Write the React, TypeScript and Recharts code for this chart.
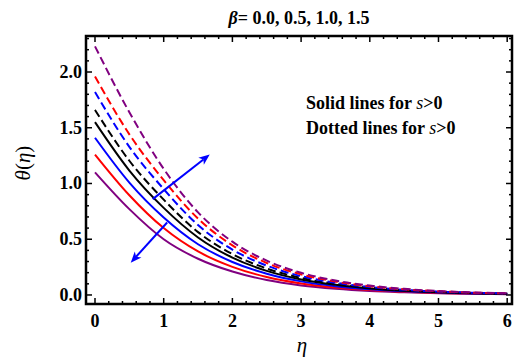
import React from 'react';
import { LineChart, Line, XAxis, YAxis, ReferenceLine, ReferenceArea } from 'recharts';

const eta = [0, 0.5, 1, 1.5, 2, 2.5, 3, 3.5, 4, 4.5, 5, 5.5, 6];
const solidPurple = [1.10, 0.77, 0.50, 0.325, 0.21, 0.134, 0.086, 0.056, 0.036, 0.024, 0.015, 0.010, 0.0065];
const solidRed = [1.26, 0.895, 0.60, 0.39, 0.252, 0.161, 0.103, 0.067, 0.044, 0.028, 0.018, 0.012, 0.008];
const solidBlue = [1.41, 1.008, 0.695, 0.455, 0.296, 0.191, 0.122, 0.079, 0.052, 0.033, 0.022, 0.014, 0.009];
const solidBlack = [1.55, 1.116, 0.781, 0.516, 0.335, 0.216, 0.139, 0.091, 0.059, 0.038, 0.025, 0.016, 0.010];
const dashedBlack = [1.66, 1.204, 0.855, 0.564, 0.367, 0.237, 0.153, 0.099, 0.065, 0.042, 0.027, 0.018, 0.011];
const dashedBlue = [1.82, 1.329, 0.950, 0.627, 0.407, 0.263, 0.169, 0.110, 0.072, 0.046, 0.030, 0.020, 0.013];
const dashedRed = [1.96, 1.441, 1.030, 0.685, 0.445, 0.287, 0.185, 0.120, 0.078, 0.051, 0.033, 0.021, 0.014];
const dashedPurple = [2.23, 1.639, 1.131, 0.741, 0.478, 0.308, 0.199, 0.129, 0.084, 0.055, 0.035, 0.023, 0.015];

const xMajorTicks = [0, 1, 2, 3, 4, 5, 6];
const xMinorTicks = [0.2, 0.4, 0.6, 0.8, 1.2, 1.4, 1.6, 1.8, 2.2, 2.4, 2.6, 2.8, 3.2, 3.4, 3.6, 3.8, 4.2, 4.4, 4.6, 4.8, 5.2, 5.4, 5.6, 5.8];
const yMajorTicks = [0, 0.5, 1, 1.5, 2];
const yMinorTicks = [0.1, 0.2, 0.3, 0.4, 0.6, 0.7, 0.8, 0.9, 1.1, 1.2, 1.3, 1.4, 1.6, 1.7, 1.8, 1.9, 2.1, 2.2, 2.3];

const xDomain: [number, number] = [-0.131, 6.07];
const yDomain: [number, number] = [-0.081, 2.323];

// arrows: from (eta, theta) to (eta, theta)
const arrowUp = { x1: 0.84, y1: 0.86, x2: 1.67, y2: 1.26 };
const arrowDown = { x1: 1.05, y1: 0.65, x2: 0.52, y2: 0.29 };

const series = [
  { key: 'sp', values: solidPurple, color: '#800080', dashed: false },
  { key: 'sr', values: solidRed, color: '#ff0000', dashed: false },
  { key: 'sb', values: solidBlue, color: '#0000ff', dashed: false },
  { key: 'sk', values: solidBlack, color: '#000000', dashed: false },
  { key: 'dk', values: dashedBlack, color: '#000000', dashed: true },
  { key: 'db', values: dashedBlue, color: '#0000ff', dashed: true },
  { key: 'dr', values: dashedRed, color: '#ff0000', dashed: true },
  { key: 'dp', values: dashedPurple, color: '#800080', dashed: true },
];

const data = eta.map((e, i) => {
  const row: Record<string, number> = { eta: e };
  series.forEach((s) => {
    row[s.key] = s.values[i];
  });
  return row;
});

const SERIF = '"Liberation Serif", "Times New Roman", Times, serif';

const bad = (vals: any[]) => vals.some((v) => typeof v !== 'number' || isNaN(v));

const ArrowShape = (props: any) => {
  const { x1, y1, x2, y2 } = props;
  if (bad([x1, y1, x2, y2])) return null;
  const dx = x2 - x1;
  const dy = y2 - y1;
  const len = Math.sqrt(dx * dx + dy * dy);
  const ux = dx / len;
  const uy = dy / len;
  const hl = 11;
  const hw = 4.5;
  const bx = x2 - ux * hl;
  const by = y2 - uy * hl;
  const pts = `${x2},${y2} ${bx - uy * hw},${by + ux * hw} ${bx + ux * 3},${by + uy * 3} ${bx + uy * hw},${by - ux * hw}`;
  return (
    <g>
      <line x1={x1} y1={y1} x2={bx + ux * 3} y2={by + uy * 3} stroke="#0000ff" strokeWidth={2} />
      <polygon points={pts} fill="#0000ff" />
    </g>
  );
};

const makeVTick = (len: number) => (props: any) => {
  const { x1, y1, x2, y2 } = props;
  if (bad([x1, y1, x2, y2])) return null;
  const top = Math.min(y1, y2);
  const bottom = Math.max(y1, y2);
  return (
    <g>
      <line x1={x1} y1={top} x2={x1} y2={top + len} stroke="#000" strokeWidth={1.5} />
      <line x1={x1} y1={bottom} x2={x1} y2={bottom - len} stroke="#000" strokeWidth={1.5} />
    </g>
  );
};

const makeHTick = (len: number) => (props: any) => {
  const { x1, y1, x2, y2 } = props;
  if (bad([x1, y1, x2, y2])) return null;
  const left = Math.min(x1, x2);
  const right = Math.max(x1, x2);
  return (
    <g>
      <line x1={left} y1={y1} x2={left + len} y2={y1} stroke="#000" strokeWidth={1.5} />
      <line x1={right} y1={y1} x2={right - len} y2={y1} stroke="#000" strokeWidth={1.5} />
    </g>
  );
};

const XMajor = makeVTick(6);
const XMinor = makeVTick(3);
const YMajor = makeHTick(6);
const YMinor = makeHTick(3);

const XTickLabel = (props: any) => {
  const { x, y, payload } = props;
  return (
    <text x={x} y={y + 23} textAnchor="middle" fontSize={18} fontWeight="bold" fontFamily={SERIF} fill="#000">
      {payload.value}
    </text>
  );
};

const YTickLabel = (props: any) => {
  const { x, y, payload } = props;
  return (
    <text x={x - 4} y={y + 6} textAnchor="end" fontSize={18} fontWeight="bold" fontFamily={SERIF} fill="#000">
      {Number(payload.value).toFixed(1)}
    </text>
  );
};

export default function App() {
  return (
    <div style={{ position: 'absolute', left: 0, top: 0, width: 520, height: 361, background: '#fff' }}>
      <LineChart width={520} height={361} data={data} margin={{ top: 36, right: 8, left: 0, bottom: 0 }}>
        <XAxis
          dataKey="eta"
          type="number"
          domain={xDomain}
          allowDataOverflow
          ticks={xMajorTicks}
          interval={0}
          height={57}
          tickLine={false}
          tickSize={0}
          tickMargin={0}
          axisLine={false}
          tick={XTickLabel}
        />
        <YAxis
          type="number"
          domain={yDomain}
          allowDataOverflow
          ticks={yMajorTicks}
          interval={0}
          width={86}
          tickLine={false}
          tickSize={0}
          tickMargin={0}
          axisLine={false}
          tick={YTickLabel}
        />
        {xMinorTicks.map((v) => (
          <ReferenceLine key={`xm${v}`} x={v} shape={XMinor} />
        ))}
        {xMajorTicks.map((v) => (
          <ReferenceLine key={`xM${v}`} x={v} shape={XMajor} />
        ))}
        {yMinorTicks.map((v) => (
          <ReferenceLine key={`ym${v}`} y={v} shape={YMinor} />
        ))}
        {yMajorTicks.map((v) => (
          <ReferenceLine key={`yM${v}`} y={v} shape={YMajor} />
        ))}
        {series.map((s) => (
          <Line
            key={s.key}
            dataKey={s.key}
            type="monotone"
            stroke={s.color}
            strokeWidth={2}
            strokeDasharray={s.dashed ? '8 4' : undefined}
            dot={false}
            activeDot={false}
            isAnimationActive={false}
          />
        ))}
        <ReferenceLine segment={[{ x: arrowUp.x1, y: arrowUp.y1 }, { x: arrowUp.x2, y: arrowUp.y2 }]} shape={ArrowShape} />
        <ReferenceLine segment={[{ x: arrowDown.x1, y: arrowDown.y1 }, { x: arrowDown.x2, y: arrowDown.y2 }]} shape={ArrowShape} />
        <ReferenceArea
          x1={xDomain[0]}
          x2={xDomain[1]}
          y1={yDomain[0]}
          y2={yDomain[1]}
          fill="none"
          fillOpacity={0}
          stroke="#000"
          strokeWidth={2.5}
          strokeOpacity={1}
        />
      </LineChart>
      <svg width={520} height={361} style={{ position: 'absolute', left: 0, top: 0, pointerEvents: 'none' }}>
        <text x={299} y={24} textAnchor="middle" fontSize={18} fontWeight="bold" fontFamily={SERIF} fill="#000">
          <tspan fontStyle="italic">β</tspan>= 0.0, 0.5, 1.0, 1.5
        </text>
        <text x={306} y={109} fontSize={18} fontWeight="bold" fontFamily={SERIF} fill="#000">
          Solid lines for <tspan fontStyle="italic" fontWeight="normal">s</tspan>&gt;0
        </text>
        <text x={306} y={134} fontSize={18} fontWeight="bold" fontFamily={SERIF} fill="#000">
          Dotted lines for <tspan fontStyle="italic" fontWeight="normal">s</tspan>&gt;0
        </text>
        <text x={302} y={352} textAnchor="middle" fontSize={21} fontStyle="italic" fontFamily={SERIF} fill="#000">η</text>
        <text x={0} y={0} transform="translate(30,163) rotate(-90)" textAnchor="middle" fontSize={21} fontFamily={SERIF} fill="#000">
          <tspan fontStyle="italic">θ</tspan>(<tspan fontStyle="italic">η</tspan>)
        </text>
      </svg>
    </div>
  );
}
